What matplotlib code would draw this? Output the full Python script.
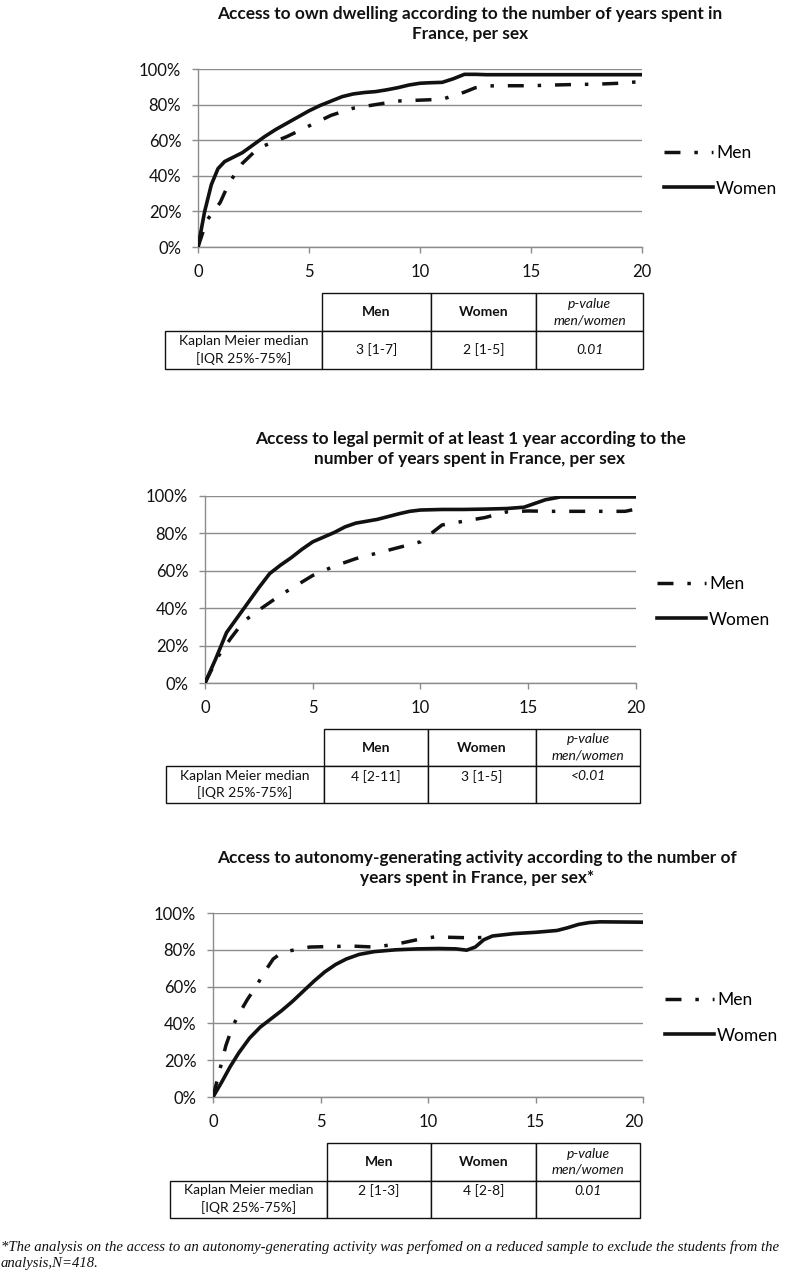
import matplotlib.pyplot as plt

W, H = 788, 1272
plt.rcParams['font.family'] = ['Lato', 'DejaVu Sans']

# ---- data (years in France, % with access) ----
p1_men_x = [0, 0.4, 1, 1.4, 2, 2.5, 3, 3.5, 4, 5, 6, 7, 8, 9, 10, 11, 11.5, 12, 12.5, 13, 14, 15, 16, 17, 18, 19, 20]
p1_men_y = [0, 15, 25, 36, 47, 53, 57, 59.5, 62, 68, 74, 78, 80, 82, 82.5, 83, 85, 87, 89.5, 90.5, 90.6, 90.6, 91, 91.3, 91.5, 92, 93]
p1_women_x = [0, 0.3, 0.6, 0.9, 1.2, 1.6, 2, 2.5, 3, 3.5, 4, 4.5, 5, 5.5, 6, 6.5, 7, 7.5, 8, 8.5, 9, 9.5, 10, 10.5, 11, 11.5, 12, 12.5, 13, 20]
p1_women_y = [0, 20, 35, 44, 48, 50.5, 53, 57.5, 62, 66, 69.5, 73, 76.5, 79.5, 82, 84.5, 86, 86.8, 87.3, 88.3, 89.5, 91, 92, 92.3, 92.5, 94.5, 97, 97, 96.8, 96.8]

p2_men_x = [0, 0.6, 1.2, 1.8, 2.5, 3, 3.5, 4, 4.5, 5, 5.5, 6, 7, 8, 9, 10, 10.5, 11, 11.5, 12, 13, 14, 15, 16, 18, 19.5, 20]
p2_men_y = [0, 14, 24, 33, 39, 43, 47, 50.5, 54, 57.5, 60, 62.5, 66.5, 69.5, 72.5, 75.5, 80, 84.5, 85.5, 86.5, 88.5, 91.5, 92, 91.8, 91.8, 91.8, 93]
p2_women_x = [0, 0.5, 1, 1.5, 2, 2.5, 3, 3.5, 4, 4.5, 5, 5.5, 6, 6.5, 7, 7.5, 8, 8.5, 9, 9.5, 10, 11, 12, 13, 14, 14.8, 15.3, 15.8, 16.5, 20]
p2_women_y = [0, 13, 27, 35, 43, 51, 58.5, 63, 67, 71.5, 75.5, 78, 80.5, 83.5, 85.5, 86.5, 87.5, 89, 90.5, 91.8, 92.5, 92.8, 92.8, 93, 93.3, 94, 96, 98, 99.5, 99.5]

p3_men_x = [0, 0.3, 0.6, 0.9, 1.2, 1.6, 2, 2.4, 2.8, 3.2, 3.8, 4.5, 5.5, 6.5, 7.5, 8.5, 9.5, 10.3, 11, 12, 12.8]
p3_men_y = [0, 14, 28, 38, 45, 53, 60, 68, 75, 78.5, 80, 81.5, 81.8, 82, 81.5, 83, 85.5, 87, 86.8, 86.5, 86.8]
p3_women_x = [0, 0.4, 0.8, 1.2, 1.7, 2.2, 2.7, 3.2, 3.7, 4.2, 4.7, 5.2, 5.7, 6.2, 6.8, 7.5, 8.5, 9.5, 10.5, 11.3, 11.8, 12.2, 12.6, 13, 14, 15, 16, 16.5, 17, 17.5, 18, 20]
p3_women_y = [0, 8, 16.5, 24, 32, 38, 42.5, 47, 52, 57.5, 63, 68, 72, 75, 77.5, 79, 80, 80.5, 80.7, 80.5, 79.8, 81.5, 85.5, 87.5, 88.8, 89.5, 90.5, 92, 93.8, 94.8, 95.2, 95]

titles = [
    "Access to own dwelling according to the number of years spent in\nFrance, per sex",
    "Access to legal permit of at least 1 year according to the\nnumber of years spent in France, per sex",
    "Access to autonomy-generating activity according to the number of\nyears spent in France, per sex*",
]
x_ticks = [0, 5, 10, 15, 20]
y_ticks = [0, 20, 40, 60, 80, 100]

col_labels = ["", "Men", "Women", "p-value\nmen/women"]
row_label = "Kaplan Meier median\n[IQR 25%-75%]"
men_median = ["3 [1-7]", "4 [2-11]", "2 [1-3]"]
women_median = ["2 [1-5]", "3 [1-5]", "4 [2-8]"]
p_values = ["0.01", "<0.01", "0.01"]

footnote = ("*The analysis on the access to an autonomy-generating activity was perfomed on a reduced "
            "sample to exclude the students from the\nanalysis,N=418.")

# ---- layout (pixels) ----
axes_px = [(198, 69, 642, 247), (205, 496, 636, 683), (213, 913, 643, 1097)]
title_px = [(470, 24), (470, 449), (477, 868)]
legend_px = [(664, 171), (657, 602), (665, 1018)]
table_px = [(165, 293, 643, 369), (166, 729, 640, 803), (170, 1143, 640, 1218)]
table_cols = [[157, 109, 105, 107], [158, 104, 108, 104], [157, 104, 105, 104]]

GRID = '#8c8c8c'
INK = '#111111'


def rect(l, t, r, b):
    return [l / W, 1 - b / H, (r - l) / W, (b - t) / H]


fig = plt.figure(figsize=(W / 100, H / 100), dpi=100)

men = [(p1_men_x, p1_men_y), (p2_men_x, p2_men_y), (p3_men_x, p3_men_y)]
women = [(p1_women_x, p1_women_y), (p2_women_x, p2_women_y), (p3_women_x, p3_women_y)]

for i in range(3):
    ax = fig.add_axes(rect(*axes_px[i]))
    lm, = ax.plot(*men[i], color=INK, lw=2.5, dashes=(4.6, 4, 1, 4),
                  dash_capstyle='butt', label='Men', zorder=3)
    lw_, = ax.plot(*women[i], color=INK, lw=2.6, label='Women', zorder=3,
                   solid_joinstyle='round')
    ax.set_xlim(0, 20)
    ax.set_ylim(0, 100)
    ax.set_xticks(x_ticks)
    ax.set_yticks(y_ticks)
    ax.set_yticklabels([f"{v}%" for v in y_ticks])
    ax.yaxis.grid(True, color=GRID, lw=1.0)
    ax.set_axisbelow(True)
    for s in ['top', 'right']:
        ax.spines[s].set_visible(False)
    for s in ['left', 'bottom']:
        ax.spines[s].set_color(GRID)
        ax.spines[s].set_linewidth(1.0)
    ax.tick_params(axis='both', direction='out', length=4, width=1, color=GRID,
                   labelsize=12, labelcolor=INK)
    ax.tick_params(axis='y', pad=8)
    ax.tick_params(axis='x', pad=8)
    if i == 2:
        ax.get_xticklabels()[-1].set_ha('right')

    tx, ty = title_px[i]
    fig.text(tx / W, 1 - ty / H, titles[i], ha='center', va='center',
             fontsize=12.4, fontweight='bold', color=INK, linespacing=1.35)

    lx, ly = legend_px[i]
    ax.legend(handles=[lm, lw_], loc='center left', frameon=False,
              bbox_to_anchor=(lx / W, 1 - ly / H), bbox_transform=fig.transFigure,
              fontsize=12.5, handlelength=2.8, handletextpad=0.2,
              labelspacing=1.1, borderpad=0, borderaxespad=0)

    # table under the chart
    tax = fig.add_axes(rect(*table_px[i]))
    tax.axis('off')
    mv, wv, pv = men_median[i], women_median[i], p_values[i]
    if i > 0:  # values sit on the first line of the cell
        mv, wv, pv = mv + "\n", wv + "\n", pv + "\n"
    widths = table_cols[i]
    tot = sum(widths)
    tbl = tax.table(cellText=[[row_label, mv, wv, pv]], colLabels=col_labels,
                    colWidths=[w / tot for w in widths], bbox=[0, 0, 1, 1],
                    cellLoc='center')
    tbl.auto_set_font_size(False)
    tbl.set_fontsize(10)
    for (r, c), cell in tbl.get_celld().items():
        cell.set_edgecolor(INK)
        cell.set_linewidth(1.0)
        cell.get_text().set_color(INK)
        cell.get_text().set_linespacing(1.45)
        if r == 0 and c == 0:
            cell.visible_edges = ''
        if r == 0 and c in (1, 2):
            cell.get_text().set_fontweight('bold')
        if c == 3:
            cell.get_text().set_fontstyle('italic')

fig.text(0.001, 1 - 1255 / H, footnote, ha='left', va='center', fontsize=10.6,
         family='Liberation Serif', style='italic', color=INK, linespacing=1.3)

fig.savefig('out.png', dpi=100)
